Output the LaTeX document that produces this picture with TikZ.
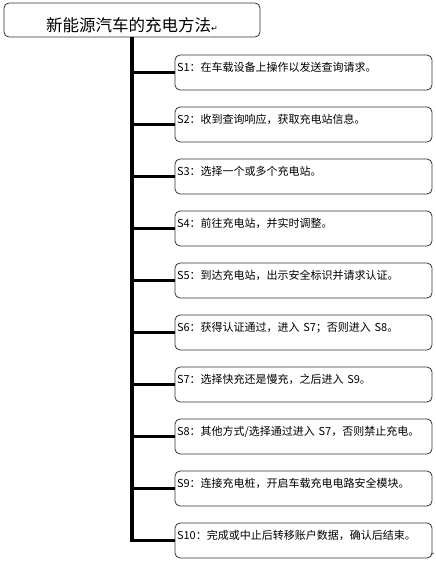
\documentclass[tikz,border=0pt]{standalone}
\usepackage{fontspec}
\newfontfamily\cjk{Noto Sans CJK SC}
\newfontfamily\sym{DejaVu Sans}
\usetikzlibrary{positioning, chains}
\newcommand{\retmark}[1]{{\sym\fontsize{#1}{#1}\selectfont ↵}}

\begin{document}
\begin{tikzpicture}[
    x = 1pt, y = -1pt,
    node distance = 17pt,
    start chain = going below,
    headbox/.style = {draw=black!80, thick, rounded corners=5pt,
        minimum width=256pt, inner ysep=1pt, text height=27pt, text depth=5pt,
        font=\cjk\fontsize{16.5}{18}\selectfont},
    stepbox/.style = {draw=black!80, thick, rounded corners=5pt,
        text width=253pt, inner xsep=2pt, inner ysep=1pt,
        text height=15pt, text depth=18pt, align=left, outer sep=0pt,
        font=\cjk\fontsize{11}{12}\selectfont, on chain},
    trunk/.style = {line width=4pt},
    branch/.style = {line width=3pt}
  ]
  \useasboundingbox (0,0) rectangle (436,562);

  \node[headbox] (title) at (132,20) {新能源汽车的充电方法\retmark{8}};

  \begin{scope}[shift={(303.5,72.5)}]
  \foreach \txt [count=\j] in {
      S1：在车载设备上操作以发送查询请求。,
      S2：收到查询响应，获取充电站信息。,
      S3：选择一个或多个充电站。,
      S4：前往充电站，并实时调整。,
      S5：到达充电站，出示安全标识并请求认证。,
      S6：获得认证通过，进入 S7；否则进入 S8。,
      S7：选择快充还是慢充，之后进入 S9。,
      S8：其他方式/选择通过进入 S7，否则禁止充电。,
      S9：连接充电桩，开启车载充电电路安全模块。,
      S10：完成或中止后转移账户数据，确认后结束。}
  \node[stepbox] (s\j) {\txt};
  \end{scope}

  \draw[trunk, shorten >=-1.5pt] (title.south) -- (title.south |- s10.west);
  \foreach \j in {1,...,10}
  \draw[branch] (title.south |- s\j.west) -- (s\j.west);

  \node[inner sep=0pt] (endmark) at (433,554) {\retmark{4}};
\end{tikzpicture}
\end{document}
